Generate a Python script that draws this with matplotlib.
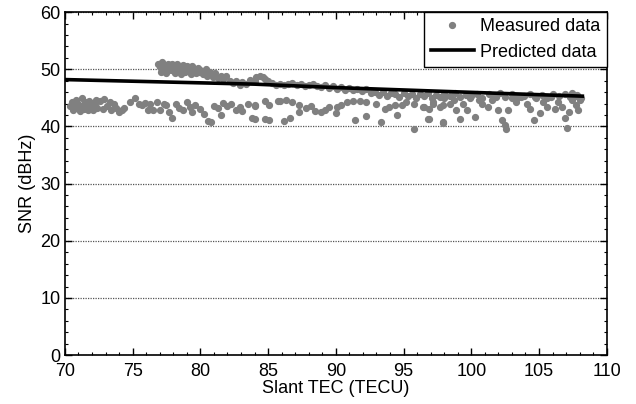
import matplotlib
matplotlib.use("Agg")
import matplotlib.pyplot as plt
import matplotlib.transforms as mtransforms
from matplotlib.ticker import MultipleLocator

plt.rcParams['font.family'] = ['Liberation Sans', 'DejaVu Sans']

# Measured data, lower cluster
low_x = [70.4, 70.5, 70.6, 70.7, 70.8, 70.9, 71.0, 71.1, 71.2, 71.3, 71.4, 71.5, 71.6, 71.7, 71.8, 71.9, 72.0, 72.1, 72.2, 72.3, 72.4,
         72.6, 72.8, 72.9, 73.1, 73.3, 73.4, 73.6, 73.8, 74.0, 74.2, 74.4,
         74.8, 75.2, 75.5, 75.7, 75.9, 76.1, 76.3, 76.5, 76.8, 77.0,
         77.3, 77.5, 77.7, 77.9, 78.2, 78.4, 78.7, 79.0, 79.2, 79.4, 79.6,
         80.0, 80.3, 80.6, 80.8, 81.0, 81.3, 81.5, 81.7, 82.0, 82.3, 82.6, 82.9, 83.1, 83.5, 83.8, 84.0,
         84.0, 84.0, 84.8, 84.8, 85.1, 85.1, 85.7, 85.9, 86.3, 86.2, 86.6, 86.8, 87.3, 87.3, 87.8, 88.2, 88.5, 88.9, 89.2, 89.5,
         90.0, 90.1, 90.4, 90.8, 91.3, 91.8, 92.2, 91.4, 92.2, 93.0, 93.3, 93.6, 93.9, 94.4, 94.5, 94.9, 95.2, 95.8, 95.8,
         96.5, 96.9, 96.9, 97.2, 97.9, 97.9,
         96.4, 96.8, 97.2, 97.7, 97.9, 98.0, 98.4, 98.7, 98.9, 99.2, 99.4, 99.7, 99.9, 100.3, 100.6, 100.8, 101.2, 101.5, 101.8,
         102.0, 102.3, 102.5, 102.6, 102.7, 103.0, 103.3, 103.7, 104.1, 104.3, 104.6, 104.8, 105.1, 105.3, 105.6, 105.9,
         106.2, 106.4, 106.7, 106.9, 107.1, 107.2, 107.4, 107.7, 107.9, 108.0, 107.8, 107.4]
low_y = [43.5, 44.2, 42.9, 43.8, 44.6, 43.2, 44.0, 42.7, 43.6, 44.9, 43.1, 44.3, 43.7, 42.8, 44.5, 43.4, 44.1, 42.9, 43.8, 44.6, 43.3,
         44.4, 43.0, 44.8, 43.6, 44.2, 42.8, 43.9, 43.2, 42.6, 42.9, 43.3,
         44.3, 44.9, 44.0, 43.8, 44.1, 42.8, 43.9, 42.8, 44.2, 42.9,
         44.0, 43.7, 42.5, 41.5, 43.9, 43.2, 42.9, 44.3, 43.4, 42.6, 43.8,
         43.1, 42.2, 41.0, 40.8, 43.6, 43.2, 42.0, 44.1, 43.5, 44.0, 42.8, 43.4, 42.7, 44.0, 41.4, 43.6,
         43.7, 41.3, 44.4, 41.3, 43.7, 41.1, 44.4, 44.5, 44.7, 40.9, 41.5, 44.2, 43.7, 42.6, 43.2, 43.5, 42.7, 42.6, 42.8, 43.4,
         42.3, 43.4, 43.7, 44.3, 44.5, 44.5, 44.3, 41.1, 41.8, 44.0, 40.8, 43.1, 43.4, 43.7, 42.0, 43.7, 44.3, 39.6, 44.0,
         43.4, 43.1, 41.3, 44.0, 43.7, 40.7,
         43.4, 41.3, 44.2, 43.4, 40.6, 44.9, 44.0, 44.6, 42.8, 41.3, 44.0, 42.8, 44.9, 41.6, 44.6, 44.0, 43.4, 44.6, 45.2,
         42.8, 41.1, 40.2, 39.5, 42.8, 44.9, 44.3, 45.2, 44.0, 43.1, 41.2, 44.9, 42.3, 44.3, 43.4, 45.2,
         43.1, 44.3, 43.4, 41.5, 39.7, 42.6, 44.6, 43.7, 42.8, 44.6, 45.5, 45.8]

# Measured data, upper band
up_x = [76.9, 77.0, 77.1, 77.2, 77.3, 77.4, 77.5, 77.6, 77.7, 77.8, 77.9, 78.0, 78.1, 78.2, 78.3, 78.4, 78.5, 78.6, 78.7, 78.8,
        78.9, 79.0, 79.1, 79.2, 79.3, 79.4, 79.5, 79.6, 79.7, 79.8, 79.9,
        80.0, 80.2, 80.4, 80.5, 80.7, 80.9, 81.1, 81.3, 81.5, 81.7, 81.9, 82.2, 82.4, 82.6, 82.9, 83.1, 83.4, 83.7, 84.0,
        84.1, 84.4, 84.6, 84.8, 85.0, 85.3,
        85.6, 85.9, 86.2, 86.5, 86.8, 87.1, 87.4, 87.7, 88.0, 88.3, 88.6, 88.9, 89.2, 89.5,
        89.8, 90.1, 90.4, 90.7, 91.0, 91.3, 91.6, 91.9, 92.2,
        92.6, 92.9, 93.2, 93.5, 93.8, 94.1, 94.4, 94.7, 95.0, 95.3, 95.6, 95.9, 96.2, 96.5, 96.8, 97.1, 97.4, 97.7, 98.0,
        98.4, 98.8, 99.2, 99.6, 100.0, 100.4, 100.8, 101.3, 101.7, 102.1, 102.5, 103.0, 103.4, 103.9, 104.3, 104.7,
        105.2, 105.6, 106.0, 106.5, 106.9, 107.3, 107.7, 108.1]
up_y = [51.0, 50.4, 49.6, 51.2, 50.0, 50.8, 49.3, 51.0, 50.3, 49.8, 50.9, 50.1, 49.4, 50.6, 51.0, 49.9, 50.4, 49.2, 50.7, 50.0,
        49.5, 50.5, 49.8, 50.2, 49.1, 50.6, 49.7, 50.0, 49.3, 50.3, 49.6,
        49.9, 49.2, 50.1, 48.9, 49.5, 48.6, 49.3, 48.5, 48.9, 48.3, 48.8, 48.0, 47.6, 47.9, 47.3, 47.8, 47.5, 48.2, 48.0,
        48.6, 48.9, 48.7, 48.3, 47.9, 47.6,
        47.3, 47.5, 47.2, 47.4, 47.6, 47.3, 47.5, 47.0, 47.2, 47.4, 47.1, 46.9, 47.3, 46.8,
        47.0, 46.6, 46.9, 46.4, 46.8, 46.3, 46.6, 46.2, 46.5,
        45.8, 46.1, 45.5, 46.0, 45.3, 45.8, 45.6, 45.1, 45.9, 45.4, 45.7, 45.0, 45.6, 45.3, 45.8, 45.0, 45.5, 45.2, 45.7,
        45.4, 45.8, 45.1, 45.5, 45.3, 45.7, 45.0, 45.6, 45.4, 45.8, 45.2, 45.6, 45.0, 45.4, 45.7, 45.2,
        45.5, 44.9, 45.6, 45.3, 45.7, 45.1, 45.4, 45.0]

# Predicted data
pred_x = [70.0, 77.0, 84.0, 90.0, 96.0, 102.0, 108.2]
pred_y = [48.2, 47.8, 47.4, 46.8, 46.3, 45.8, 45.3]

fig = plt.figure(figsize=(6.36, 4.04), dpi=100)
ax = fig.add_axes([0.102, 0.121, 0.852, 0.849])

ax.plot(low_x + up_x, low_y + up_y, linestyle='none', marker='o', markersize=4.2,
        color='#808080', label='Measured data', zorder=3)
ax.plot(pred_x, pred_y, color='black', lw=2.6, label='Predicted data', zorder=4)

ax.set_xlim(70, 110)
ax.set_ylim(0, 60)
ax.xaxis.set_major_locator(MultipleLocator(5))
ax.xaxis.set_minor_locator(MultipleLocator(1))
ax.yaxis.set_major_locator(MultipleLocator(10))
ax.yaxis.set_minor_locator(MultipleLocator(2))
ax.tick_params(which='both', direction='in', top=True, right=True, labelsize=13, colors='black')
ax.tick_params(which='major', length=5, width=1)
ax.tick_params(which='minor', length=2.5, width=0.8)
ax.tick_params(axis='x', which='major', pad=6)
ax.tick_params(axis='y', which='major', pad=3)
for s in ax.spines.values():
    s.set_linewidth(1.2)

ax.grid(axis='y', which='major', color='#555555', linestyle=(0, (1, 1)), linewidth=0.9, zorder=1)
ax.set_axisbelow(True)

ax.set_xlabel('Slant TEC (TECU)', fontsize=13, labelpad=0)
ax.set_ylabel('SNR (dBHz)', fontsize=13, labelpad=3)

leg = ax.legend(loc='upper right', fontsize=13, frameon=True, fancybox=False,
                edgecolor='black', framealpha=1, borderaxespad=0.0,
                handlelength=2.4, borderpad=0.35, labelspacing=0.45, handletextpad=0.35)
leg.get_frame().set_linewidth(1.0)

# raise the "0" y tick label slightly, as in the reference, so it clears the "70" label
fig.canvas.draw()
zero_lbl = ax.yaxis.get_major_ticks()[0].label1
zero_lbl.set_transform(zero_lbl.get_transform() +
                       mtransforms.ScaledTranslation(0, 5 / 72, fig.dpi_scale_trans))

fig.savefig('out.png', dpi=100)
